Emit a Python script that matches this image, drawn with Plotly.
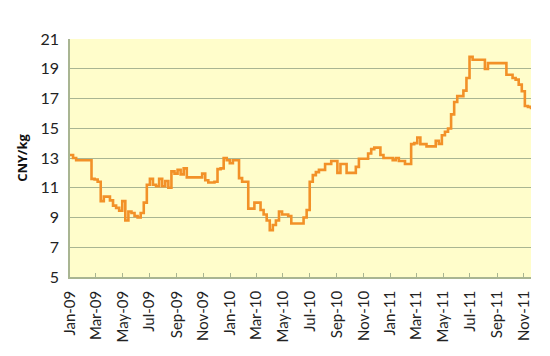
import pandas as pd
import plotly.graph_objects as go

start_date = "2009-01-01"
price_cny_kg = [
    13.2, 13.0, 12.85, 12.85, 12.85, 12.85, 12.85, 11.6, 11.55, 11.4,
    10.1, 10.4, 10.4, 10.15, 9.8, 9.65, 9.45, 10.1, 8.8, 9.4,
    9.3, 9.1, 9.0, 9.3, 10.0, 11.2, 11.6, 11.2, 11.1, 11.6,
    11.1, 11.45, 11.0, 12.1, 11.95, 12.2, 11.9, 12.3, 11.7, 11.7,
    11.7, 11.7, 11.7, 11.95, 11.5, 11.35, 11.35, 11.4, 12.25, 12.3,
    13.0, 12.85, 12.65, 12.85, 12.85, 11.65, 11.4, 11.4, 9.6, 9.6,
    10.0, 10.0, 9.5, 9.2, 8.8, 8.15, 8.5, 8.8, 9.4, 9.2,
    9.2, 9.1, 8.6, 8.6, 8.6, 8.6, 9.0, 9.5, 11.4, 11.85,
    12.05, 12.2, 12.2, 12.6, 12.6, 12.8, 12.8, 12.0, 12.6, 12.6,
    12.0, 12.0, 12.0, 12.4, 12.95, 12.95, 12.95, 13.3, 13.6, 13.7,
    13.7, 13.2, 13.0, 13.0, 13.0, 12.85, 13.0, 12.8, 12.8, 12.6,
    12.6, 13.93, 14.0, 14.38, 13.93, 13.93, 13.78, 13.78, 13.78, 14.16,
    13.95, 14.53, 14.76, 14.98, 15.93, 16.76, 17.16, 17.16, 17.53, 18.38,
    19.8, 19.6, 19.6, 19.6, 19.6, 18.98, 19.38, 19.38, 19.38, 19.38,
    19.38, 19.38, 18.6, 18.6, 18.38, 18.27, 17.93, 17.49, 16.5, 16.44,
    16.27,
]
dates = pd.date_range(start_date, periods=len(price_cny_kg), freq="7D")
y_ticks = [5, 7, 9, 11, 13, 15, 17, 19, 21]

grid_col = "#A9B592"
font_fam = "Lato, Open Sans, sans-serif"

fig = go.Figure()
fig.add_trace(go.Scatter(
    x=dates, y=price_cny_kg, mode="lines",
    line=dict(color="#F29128", width=2.6, shape="hv"),
    hoverinfo="x+y",
))
fig.update_layout(
    width=550, height=356,
    margin=dict(l=62, r=27, t=31, b=87),
    paper_bgcolor="white",
    plot_bgcolor="#FFFDCB",
    showlegend=False,
    font=dict(family=font_fam, size=14, color="#222222"),
)
fig.update_xaxes(
    range=[dates[0], dates[-1]],
    tickmode="linear", tick0="2009-01-01", dtick="M2",
    tickformat="%b-%y", tickangle=-90,
    showgrid=False, showline=True, linecolor=grid_col, linewidth=1.5,
    ticks="inside", ticklen=4, tickcolor=grid_col, tickwidth=1,
    ticklabelstandoff=6,
    tickfont=dict(size=15, family=font_fam, color="#222222"),
)
fig.update_yaxes(
    range=[5, 21], tickvals=y_ticks,
    showgrid=True, gridcolor=grid_col, gridwidth=1.3,
    showline=True, linecolor=grid_col, linewidth=1.5,
    zeroline=False, ticks="",
    ticklabelstandoff=6,
    tickfont=dict(size=16, family=font_fam, color="#222222"),
    title=dict(text="<b>CNY/kg</b>", font=dict(size=13, family="Open Sans, sans-serif", color="#111111"), standoff=10),
)
fig.write_html("out.html")
